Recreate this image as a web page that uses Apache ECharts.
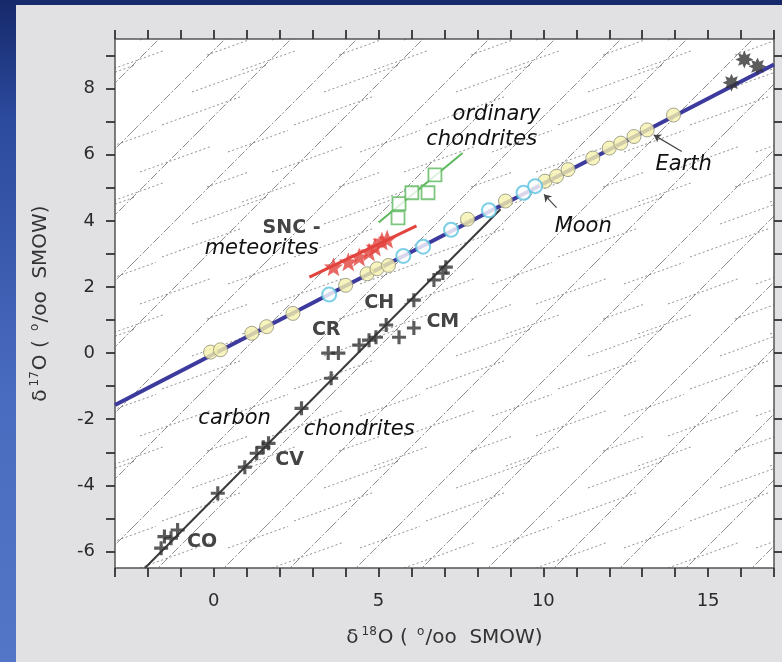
<!DOCTYPE html>
<html><head><meta charset="utf-8">
<script src="https://cdn.jsdelivr.net/npm/echarts@6/dist/echarts.min.js"></script>
<style>
html,body{margin:0;padding:0;width:782px;height:662px;overflow:hidden;}
body{background:linear-gradient(to bottom,#16296a 0px,#2c4a9e 120px,#4a6cc0 400px,#5476c6 662px);}
#panel{position:absolute;left:16px;top:5px;right:0;bottom:0;background:#e1e1e3;}
#c{position:absolute;left:0;top:0;width:782px;height:662px;}
</style></head><body><div id="panel"></div><div id="c"></div>
<script>
// ---- data ----
const xTickLabels = [0, 5, 10, 15];
const yTickValues = [-6, -5, -4, -3, -2, -1, 0, 1, 2, 3, 4, 5, 6, 7, 8, 9];
const yTickLabels = [-6, -4, -2, 0, 2, 4, 6, 8];

const tflX = [-3, 17];
const tflY = [-1.57, 8.73];
const ccLineX = [-2.09, 8.7];
const ccLineY = [-6.5, 4.35];
const sncLineX = [2.9, 6.15];
const sncLineY = [2.3, 3.85];
const ocLineX = [5.0, 7.55];
const ocLineY = [3.95, 6.05];

const earthX = [-0.1, 0.2, 1.15, 1.6, 2.4, 4.0, 4.65, 4.95, 5.3, 7.7, 8.85, 10.05, 10.4, 10.75, 11.5, 12.0, 12.35, 12.75, 13.15, 13.95];
const earthY = [0.03, 0.1, 0.6, 0.8, 1.2, 2.05, 2.4, 2.55, 2.65, 4.05, 4.6, 5.2, 5.35, 5.55, 5.9, 6.2, 6.35, 6.55, 6.75, 7.2];
const moonX = [3.5, 5.75, 6.35, 7.2, 8.35, 9.4, 9.75];
const moonY = [1.77, 2.94, 3.22, 3.73, 4.32, 4.85, 5.05];
const sncX = [3.63, 4.08, 4.41, 4.71, 4.89, 5.1, 5.26];
const sncY = [2.61, 2.76, 2.91, 3.06, 3.21, 3.39, 3.45];
const ocX = [5.59, 5.62, 6.01, 6.5, 6.71];
const ocY = [4.09, 4.52, 4.85, 4.85, 5.39];
const ccX = [-1.6, -1.5, -1.3, -1.1, 0.12, 0.94, 1.3, 1.5, 1.66, 2.66, 3.56, 3.47, 3.78, 4.41, 4.71, 4.92, 5.23, 6.07, 6.68, 6.95, 7.04, 5.62, 6.07];
const ccY = [-5.9, -5.55, -5.6, -5.35, -4.24, -3.45, -3.03, -2.85, -2.73, -1.67, -0.76, 0.0, 0.0, 0.24, 0.39, 0.48, 0.85, 1.6, 2.21, 2.42, 2.6, 0.48, 0.76];
const darkX = [15.71, 16.1, 16.5];
const darkY = [8.18, 8.88, 8.67];

const earthArrowX = [14.2, 13.35];
const earthArrowY = [6.1, 6.6];
const moonArrowX = [10.4, 10.02];
const moonArrowY = [4.4, 4.8];

const labelTexts = ['ordinary', 'chondrites', 'Earth', 'Moon', 'SNC -', 'meteorites', 'CH', 'CR', 'CM', 'carbon', 'chondrites', 'CV', 'CO'];
const labelX = [8.58, 8.13, 14.26, 11.21, 2.36, 1.45, 5.02, 3.41, 6.95, 0.63, 4.41, 2.30, -0.36];
const labelY = [7.21, 6.45, 5.70, 3.82, 3.79, 3.15, 1.52, 0.70, 0.94, -1.97, -2.30, -3.24, -5.73];
const labelKind = ['i', 'i', 'i', 'i', 'b', 'i', 'b', 'b', 'b', 'i', 'i', 'b', 'b'];

// ---- helpers ----
const zip = (a, b) => a.map((v, i) => [v, b[i]]);
function starPath(n, ro, ri) {
  let d = '';
  for (let i = 0; i < 2 * n; i++) {
    const r = i % 2 === 0 ? ro : ri;
    const a = -Math.PI / 2 + i * Math.PI / n;
    d += (i === 0 ? 'M' : 'L') + (r * Math.cos(a)).toFixed(2) + ',' + (r * Math.sin(a)).toFixed(2);
  }
  return 'path://' + d + 'Z';
}
const plusPath = 'path://M-1.8,-8L1.8,-8L1.8,-1.8L8,-1.8L8,1.8L1.8,1.8L1.8,8L-1.8,8L-1.8,1.8L-8,1.8L-8,-1.8L-1.8,-1.8Z';

function makeTexture() {
  const W = 132, H = 132;
  const c = document.createElement('canvas');
  c.width = W; c.height = H;
  const g = c.getContext('2d');
  g.fillStyle = '#ffffff'; g.fillRect(0, 0, W, H);
  // steep dash-dot lines
  g.strokeStyle = 'rgba(95,95,95,0.7)'; g.lineWidth = 1;
  g.setLineDash([9, 2, 2, 2]);
  for (let a = -264; a <= 264; a += 66) {
    g.beginPath(); g.moveTo(a, H); g.lineTo(a + H, 0); g.stroke();
  }
  // shallow dotted segments
  g.strokeStyle = 'rgba(100,100,100,0.7)'; g.lineWidth = 1;
  g.setLineDash([2, 2.5]);
  const segs = [[8, 40, 70], [60, 92, 75], [96, 20, 60], [30, 125, 80], [110, 70, 55], [75, 55, 40]];
  for (const s of segs) {
    for (const dx of [-W, 0, W]) for (const dy of [-H, 0, H]) {
      g.beginPath();
      g.moveTo(s[0] + dx, s[1] + dy);
      g.lineTo(s[0] + dx + s[2], s[1] + dy - s[2] * 0.36);
      g.stroke();
    }
  }
  return c;
}

const FONT = 'DejaVu Sans';
const axisLineStyle = { color: '#555', width: 1.5 };
const tickStyle = { color: '#333', width: 1.8 };

function nameRich(size) {
  return {
    a: { fontSize: size, color: '#333', fontFamily: FONT, lineHeight: size + 4 },
    s: { fontSize: Math.round(size * 0.62), color: '#333', fontFamily: FONT, verticalAlign: 'top', lineHeight: size + 4, padding: [0, 1, 0, 3] }
  };
}

const chart = echarts.init(document.getElementById('c'), null, { renderer: 'canvas' });
const option = {
  animation: false,
  backgroundColor: 'transparent',
  grid: { left: 115, right: 8, top: 39, bottom: 94, show: false },
  xAxis: [
    {
      type: 'value', min: -3, max: 17, interval: 1, position: 'bottom',
      axisLine: { show: true, onZero: false, lineStyle: axisLineStyle },
      axisTick: { show: true, inside: false, length: 9, lineStyle: tickStyle },
      axisLabel: { customValues: xTickLabels, fontSize: 18, color: '#2a2a2a', fontFamily: FONT, margin: 24 },
      splitLine: { show: false },
      name: '{a|δ}{s|18}{a|O ( }{s|o}{a|/oo  SMOW)}',
      nameLocation: 'middle', nameGap: 58,
      nameTextStyle: { rich: nameRich(20) }
    },
    {
      type: 'value', min: -3, max: 17, interval: 1, position: 'top',
      axisLine: { show: true, onZero: false, lineStyle: axisLineStyle },
      axisTick: { show: true, inside: false, length: 9, lineStyle: tickStyle },
      axisLabel: { show: false }, splitLine: { show: false }
    }
  ],
  yAxis: [
    {
      type: 'value', min: -6.5, max: 9.5, position: 'left',
      axisLine: { show: true, onZero: false, lineStyle: axisLineStyle },
      axisTick: { show: true, inside: false, length: 9, lineStyle: tickStyle, customValues: yTickValues },
      axisLabel: { customValues: yTickLabels, fontSize: 18, color: '#2a2a2a', fontFamily: FONT, margin: 20 },
      splitLine: { show: false },
      name: '{a|δ}{s|17}{a|O ( }{s|o}{a|/oo  SMOW)}',
      nameLocation: 'middle', nameGap: 62, nameRotate: 90,
      nameTextStyle: { rich: nameRich(20) }
    },
    {
      type: 'value', min: -6.5, max: 9.5, position: 'right',
      axisLine: { show: true, onZero: false, lineStyle: axisLineStyle },
      axisTick: { show: true, inside: false, length: 9, lineStyle: tickStyle, customValues: yTickValues },
      axisLabel: { show: false }, splitLine: { show: false }
    }
  ],
  series: [
    { name: 'TFL', type: 'line', data: zip(tflX, tflY), symbol: 'none', lineStyle: { color: '#3d3a9e', width: 4 }, z: 3, silent: true },
    { name: 'CC line', type: 'line', data: zip(ccLineX, ccLineY), symbol: 'none', lineStyle: { color: '#3a3a3a', width: 2 }, z: 3, silent: true },
    { name: 'SNC line', type: 'line', data: zip(sncLineX, sncLineY), symbol: 'none', lineStyle: { color: '#e2443d', width: 3 }, z: 3, silent: true },
    { name: 'OC line', type: 'line', data: zip(ocLineX, ocLineY), symbol: 'none', lineStyle: { color: '#5cb85c', width: 2 }, z: 3, silent: true },
    { name: 'Earth', type: 'scatter', data: zip(earthX, earthY), symbol: 'circle', symbolSize: 14,
      itemStyle: { color: '#f6f1ad', borderColor: '#8f8f78', borderWidth: 1 }, z: 5 },
    { name: 'Moon', type: 'scatter', data: zip(moonX, moonY), symbol: 'circle', symbolSize: 14,
      itemStyle: { color: '#ffffff', borderColor: '#5bc3df', borderWidth: 2 }, z: 5 },
    { name: 'SNC', type: 'scatter', data: zip(sncX, sncY), symbol: starPath(5, 10, 4.2), symbolSize: 19,
      itemStyle: { color: '#e2443d' }, z: 6 },
    { name: 'OC', type: 'scatter', data: zip(ocX, ocY), symbol: 'rect', symbolSize: 13,
      itemStyle: { color: '#ffffff', borderColor: '#5cb85c', borderWidth: 1.8 }, z: 6 },
    { name: 'CC', type: 'scatter', data: zip(ccX, ccY), symbol: plusPath, symbolSize: 14,
      itemStyle: { color: '#333' }, z: 6 },
    { name: 'dark', type: 'scatter', data: zip(darkX, darkY), symbol: starPath(8, 10, 5.5), symbolSize: 18,
      itemStyle: { color: '#333' }, z: 6 },
    { name: 'arrows', type: 'lines', coordinateSystem: 'cartesian2d',
      data: [{ coords: zip(earthArrowX, earthArrowY) }, { coords: zip(moonArrowX, moonArrowY) }],
      symbol: ['none', 'arrow'], symbolSize: 7,
      lineStyle: { color: '#444', width: 1.2, opacity: 1 }, z: 6, silent: true }
  ]
};
chart.setOption(option);

const p0 = chart.convertToPixel({ gridIndex: 0 }, [-3, 9.5]);
const p1 = chart.convertToPixel({ gridIndex: 0 }, [17, -6.5]);
const graphics = [{
  type: 'rect', z: -5, silent: true,
  shape: { x: p0[0], y: p0[1], width: p1[0] - p0[0], height: p1[1] - p0[1] },
  style: { fill: { image: makeTexture(), repeat: 'repeat' } }
}];
labelTexts.forEach((t, i) => {
  const p = chart.convertToPixel({ gridIndex: 0 }, [labelX[i], labelY[i]]);
  const italic = labelKind[i] === 'i';
  graphics.push({
    type: 'text', z: 10, silent: true, x: p[0], y: p[1],
    style: {
      text: t, align: 'center', verticalAlign: 'middle',
      font: (italic ? 'italic normal ' : 'normal bold ') + (italic ? '21px ' : '19px ') + '"DejaVu Sans"',
      fill: italic ? '#111' : '#444'
    }
  });
});
chart.setOption({ graphic: graphics });
</script></body></html>
